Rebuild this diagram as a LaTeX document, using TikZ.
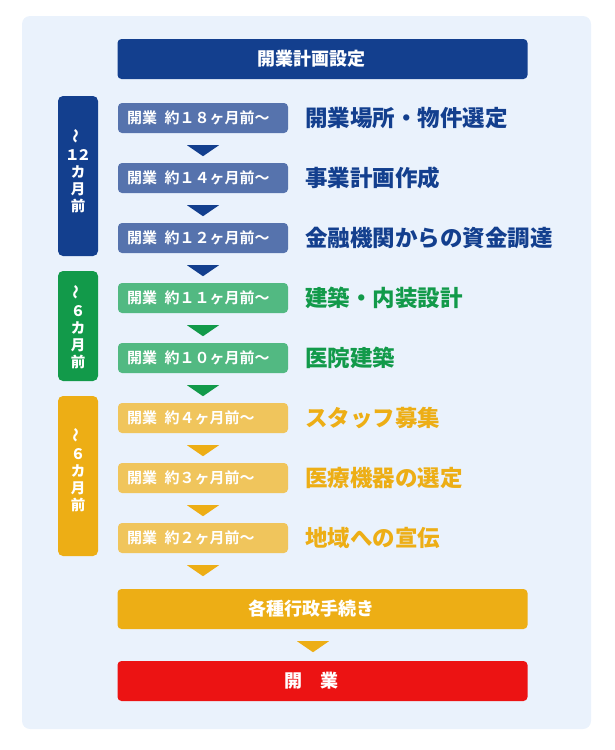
\documentclass[tikz,border=0pt]{standalone}
\usepackage{fontspec}
\usepackage{graphicx}
\setmainfont{Noto Sans CJK JP}[BoldFont={* Bold}]
\IfFontExistsTF{Noto Sans CJK JP Black}
  {\newfontfamily\heavyfont{Noto Sans CJK JP Black}}
  {\newfontfamily\heavyfont{Noto Sans CJK JP Bold}}
\usetikzlibrary{calc}
\definecolor{panelbg}{RGB}{234,242,252}
\definecolor{dblue}{RGB}{19,63,142}
\definecolor{sblue}{RGB}{86,115,173}
\definecolor{dgreen}{RGB}{18,154,74}
\definecolor{sgreen}{RGB}{82,185,130}
\definecolor{dorange}{RGB}{237,174,21}
\definecolor{sorange}{RGB}{240,197,92}
\definecolor{dred}{RGB}{236,19,19}
\tikzset{
  x=1pt, y=-1pt,
  banner/.style={rounded corners=4pt, minimum width=410pt, minimum height=40pt, inner sep=0pt},
  bannertext/.style={text=white, inner sep=0pt, font=\fontsize{18}{20}\selectfont\heavyfont},
  stepbox/.style={rounded corners=4pt, minimum width=170pt, minimum height=30pt, inner sep=0pt},
  steptext/.style={anchor=west, text=white, inner sep=0pt, font=\fontsize{15}{16}\selectfont\bfseries},
  label/.style={anchor=west, inner sep=0pt, font=\fontsize{22.5}{24}\selectfont\heavyfont},
  sidebar/.style={rounded corners=5pt, minimum width=40pt, inner sep=0pt},
  sidetext/.style={text=white, align=center, inner sep=0pt, font=\fontsize{14.5}{16.8}\selectfont\heavyfont},
}
\newcommand{\downtri}[4]{% color, from node, dy start, dx center offset
  \fill[#1] ($(#2.south)+(#4-16,#3)$) -- ++(32,0) -- ++(-16,11) -- cycle;}
\newcommand{\gapsp}{\hspace{0.5em}}
\begin{document}
\begin{tikzpicture}
\useasboundingbox (0,0) rectangle (614,750);
\fill[panelbg, rounded corners=8pt] (22,16) rectangle (591,729);

% top banner
\node[banner, fill=dblue] (top) at (322.5,59) {};
\node[bannertext] (toptext) at (311,59) {開業計画設定};

% side bars
\node[sidebar, fill=dblue, minimum height=160pt] (barA) at (78,176) {};
\node[sidetext] (barAtext) at (78,171) {\rotatebox{90}{〜}\\１\kern-3pt２\\カ\\月\\前};
\node[sidebar, fill=dgreen, minimum height=110pt] (barB) at (78,326) {};
\node[sidetext] (barBtext) at (78,327) {\rotatebox{90}{〜}\\６\\カ\\月\\前};
\node[sidebar, fill=dorange, minimum height=160pt] (barC) at (78,476) {};
\node[sidetext] (barCtext) at (78,470) {\rotatebox{90}{〜}\\６\\カ\\月\\前};

% step boxes
\node[stepbox, fill=sblue] (s1) at (203,118) {};
\node[stepbox, fill=sblue] (s2) at (203,178) {};
\node[stepbox, fill=sblue] (s3) at (203,238) {};
\node[stepbox, fill=sgreen] (s4) at (203,298) {};
\node[stepbox, fill=sgreen] (s5) at (203,358) {};
\node[stepbox, fill=sorange] (s6) at (203,418) {};
\node[stepbox, fill=sorange] (s7) at (203,478) {};
\node[stepbox, fill=sorange] (s8) at (203,538) {};

\node[steptext] (t1) at (127,118) {開業\gapsp 約１８ヶ月前〜};
\node[steptext] (t2) at (127,178) {開業\gapsp 約１４ヶ月前〜};
\node[steptext] (t3) at (127,238) {開業\gapsp 約１２ヶ月前〜};
\node[steptext] (t4) at (127,298) {開業\gapsp 約１１ヶ月前〜};
\node[steptext] (t5) at (127,358) {開業\gapsp 約１０ヶ月前〜};
\node[steptext] (t6) at (127,418) {開業\gapsp 約４ヶ月前〜};
\node[steptext] (t7) at (127,478) {開業\gapsp 約３ヶ月前〜};
\node[steptext] (t8) at (127,538) {開業\gapsp 約２ヶ月前〜};

% right labels
\node[label, text=dblue] (l1) at (305,118) {開業場所・物件選定};
\node[label, text=dblue] (l2) at (305,178) {事業計画作成};
\node[label, text=dblue] (l3) at (305,238) {金融機関からの資金調達};
\node[label, text=dgreen] (l4) at (305,298) {建築・内装設計};
\node[label, text=dgreen] (l5) at (305,358) {医院建築};
\node[label, text=dorange] (l6) at (305,418) {スタッフ募集};
\node[label, text=dorange] (l7) at (305,478) {医療機器の選定};
\node[label, text=dorange] (l8) at (305,538) {地域への宣伝};

% bottom banners
\node[banner, fill=dorange] (proc) at (322.5,609) {};
\node[bannertext] (proctext) at (311,609) {各種行政手続き};
\node[banner, fill=dred] (open) at (322.5,681) {};
\node[bannertext] (opentext) at (311,681) {開\hspace{1em}業};

% arrows
\downtri{dblue}{s1}{12}{0}
\downtri{dblue}{s2}{12}{0}
\downtri{dblue}{s3}{12}{0}
\downtri{dgreen}{s4}{12}{0}
\downtri{dgreen}{s5}{12}{0}
\downtri{dorange}{s6}{12}{0}
\downtri{dorange}{s7}{12}{0}
\downtri{dorange}{s8}{12}{0}
\downtri{dorange}{proc}{12}{-9.5}
\end{tikzpicture}
\end{document}
